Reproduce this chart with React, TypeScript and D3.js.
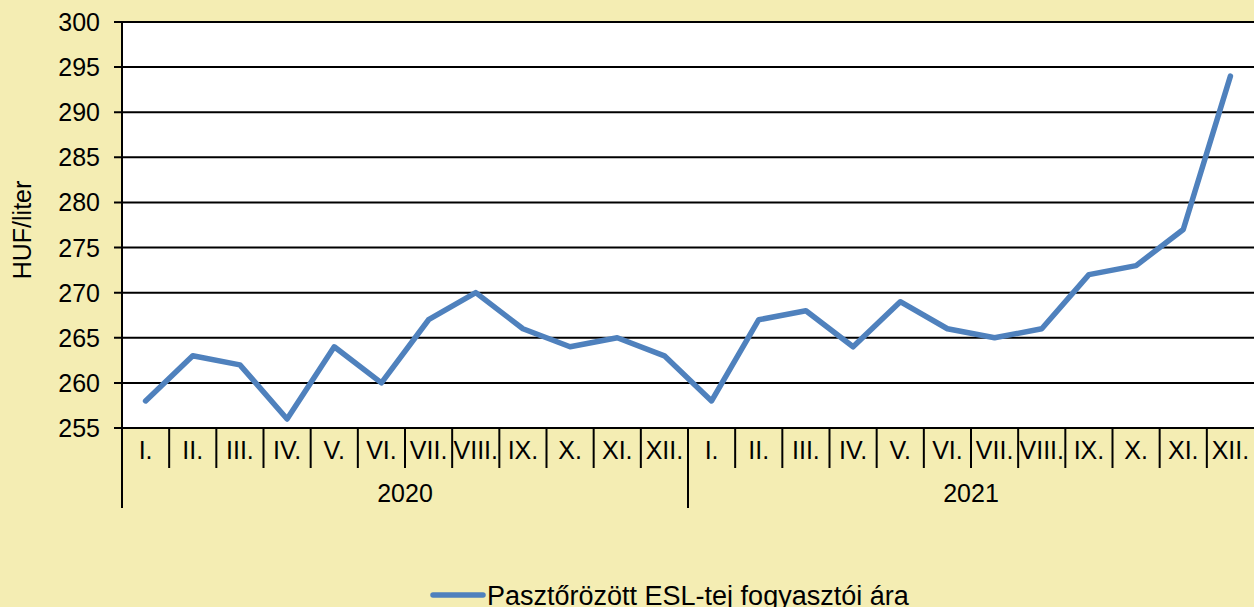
import React, { useEffect, useRef } from "react";
import * as d3 from "d3";

// monthly values (HUF/liter)
const months = ["I.", "II.", "III.", "IV.", "V.", "VI.", "VII.", "VIII.", "IX.", "X.", "XI.", "XII."];
const years = ["2020", "2021"];
const values2020 = [258, 263, 262, 256, 264, 260, 267, 270, 266, 264, 265, 263];
const values2021 = [258, 267, 268, 264, 269, 266, 265, 266, 272, 273, 277, 294];
const yTicks = [255, 260, 265, 270, 275, 280, 285, 290, 295, 300];
const seriesName = "Pasztőrözött ESL-tej fogyasztói ára";

const W = 1254;
const H = 607;
const margin = { top: 22, right: 0, bottom: 179, left: 122 };
const bg = "#F4EDB3";
const lineColor = "#4F81BD";
const font = "'Liberation Sans', Arial, sans-serif";

const App = () => {
  const ref = useRef<SVGSVGElement>(null);

  useEffect(() => {
    const svg = d3.select(ref.current);
    svg.selectAll("*").remove();

    const width = W - margin.left - margin.right;
    const height = H - margin.top - margin.bottom;

    const data = [
      ...values2020.map((v, i) => ({ key: `2020-${i}`, month: months[i], value: v })),
      ...values2021.map((v, i) => ({ key: `2021-${i}`, month: months[i], value: v })),
    ];

    const x = d3
      .scaleBand()
      .domain(data.map((d) => d.key))
      .range([0, width]);
    const y = d3.scaleLinear().domain([255, 300]).range([height, 0]);

    svg.append("rect").attr("width", W).attr("height", H).attr("fill", bg);

    const g = svg
      .append("g")
      .attr("transform", `translate(${margin.left},${margin.top})`);

    // plot area
    g.append("rect")
      .attr("width", width)
      .attr("height", height)
      .attr("fill", "#fff");

    // gridlines
    g.selectAll(".grid")
      .data(yTicks)
      .enter()
      .append("line")
      .attr("x1", -8)
      .attr("x2", width)
      .attr("y1", (d) => y(d))
      .attr("y2", (d) => y(d))
      .attr("stroke", "#000")
      .attr("stroke-width", 2);

    // y labels
    g.selectAll(".ylab")
      .data(yTicks)
      .enter()
      .append("text")
      .attr("x", -22)
      .attr("y", (d) => y(d))
      .attr("dy", "0.36em")
      .attr("text-anchor", "end")
      .attr("font-family", font)
      .attr("font-size", 25)
      .attr("fill", "#000")
      .text((d) => d);

    // y axis line
    g.append("line")
      .attr("x1", 0)
      .attr("x2", 0)
      .attr("y1", 0)
      .attr("y2", height)
      .attr("stroke", "#000")
      .attr("stroke-width", 2);

    // month ticks
    const bw = x.bandwidth();
    g.selectAll(".mtick")
      .data(data)
      .enter()
      .append("line")
      .attr("x1", (d) => x(d.key)!)
      .attr("x2", (d) => x(d.key)!)
      .attr("y1", height)
      .attr("y2", (d, i) => (i % 12 === 0 ? height + 80 : height + 40))
      .attr("stroke", "#000")
      .attr("stroke-width", 2);

    g.selectAll(".mlab")
      .data(data)
      .enter()
      .append("text")
      .attr("x", (d) => x(d.key)! + bw / 2)
      .attr("y", height + 31)
      .attr("text-anchor", "middle")
      .attr("font-family", font)
      .attr("font-size", 25)
      .attr("fill", "#000")
      .text((d) => d.month);

    // year labels
    years.forEach((yr) => {
      const x0 = x(`${yr}-0`)!;
      g.append("text")
        .attr("x", x0 + (bw * 12) / 2)
        .attr("y", height + 74)
        .attr("text-anchor", "middle")
        .attr("font-family", font)
        .attr("font-size", 25)
        .attr("fill", "#000")
        .text(yr);
    });

    // line
    const line = d3
      .line<{ key: string; value: number }>()
      .x((d) => x(d.key)! + bw / 2)
      .y((d) => y(d.value));

    g.append("path")
      .datum(data)
      .attr("fill", "none")
      .attr("stroke", lineColor)
      .attr("stroke-width", 5.5)
      .attr("stroke-linejoin", "round")
      .attr("stroke-linecap", "round")
      .attr("d", line);

    // y axis title
    svg
      .append("text")
      .attr("transform", `translate(31,${margin.top + height / 2 + 5}) rotate(-90)`)
      .attr("text-anchor", "middle")
      .attr("font-family", font)
      .attr("font-size", 25)
      .attr("fill", "#000")
      .text("HUF/liter");

    // legend
    const leg = svg.append("g").attr("transform", `translate(433,595)`);
    leg
      .append("line")
      .attr("x1", 0)
      .attr("x2", 50)
      .attr("stroke", lineColor)
      .attr("stroke-width", 5.5)
      .attr("stroke-linecap", "round");
    leg
      .append("text")
      .attr("x", 54)
      .attr("y", 0)
      .attr("dy", "0.36em")
      .attr("font-family", font)
      .attr("font-size", 27)
      .attr("fill", "#000")
      .text(seriesName);
  }, []);

  return (
    <svg
      ref={ref}
      width={W}
      height={H}
      style={{ position: "absolute", left: 0, top: 0 }}
    ></svg>
  );
};

export default App;
